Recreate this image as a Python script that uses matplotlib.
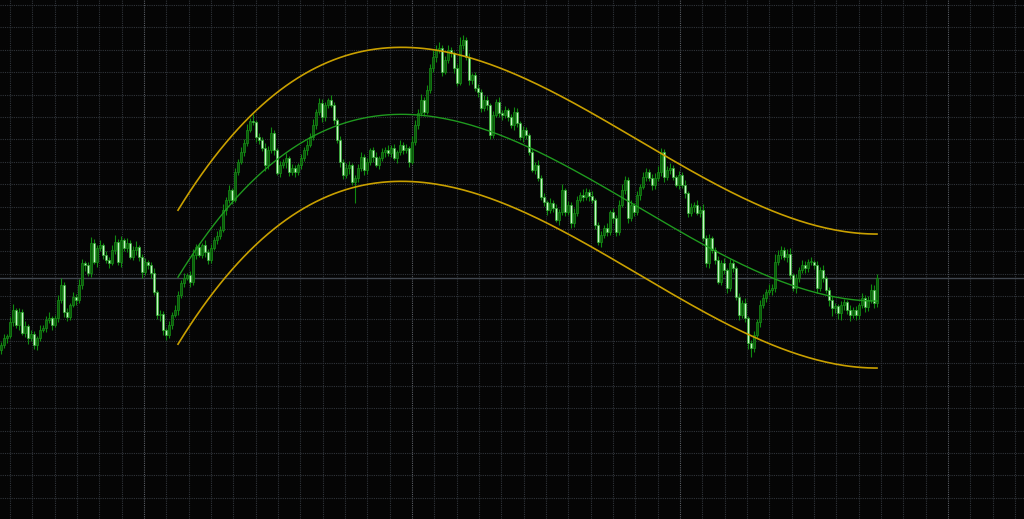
import numpy as np
import matplotlib.pyplot as plt

# cotações (pontos), uma vela por barra
closes = [
    55, 62, 64, 78, 90, 75, 88, 67, 74, 62, 66, 55, 62, 70, 72, 80, 82, 75, 82, 100,
    115, 88, 83, 95, 103, 100, 115, 137, 135, 127, 157, 138, 152, 155, 145, 140, 137, 150, 158, 138,
    160, 152, 157, 143, 150, 153, 143, 128, 138, 135, 127, 108, 85, 86, 70, 65, 75, 85, 90, 105,
    117, 122, 125, 118, 145, 153, 145, 155, 148, 140, 152, 160, 164, 170, 190, 200, 210, 200, 228, 238,
    248, 257, 270, 279, 278, 263, 260, 252, 235, 250, 267, 250, 227, 235, 238, 242, 228, 232, 228, 235,
    242, 250, 255, 263, 275, 288, 297, 283, 295, 300, 295, 280, 260, 238, 225, 232, 235, 218, 222, 232,
    243, 230, 238, 250, 243, 235, 242, 248, 250, 247, 252, 242, 248, 255, 250, 252, 238, 258, 275, 287,
    300, 288, 310, 332, 343, 350, 352, 328, 340, 350, 347, 332, 317, 355, 360, 343, 320, 325, 312, 308,
    292, 300, 295, 265, 285, 298, 287, 285, 290, 283, 275, 288, 277, 263, 270, 265, 248, 230, 235, 222,
    203, 198, 190, 197, 192, 180, 188, 210, 188, 195, 177, 187, 200, 205, 203, 208, 204, 200, 175, 158,
    165, 172, 168, 188, 182, 168, 195, 210, 220, 182, 195, 188, 205, 213, 223, 228, 222, 215, 222, 228,
    248, 223, 230, 232, 223, 215, 225, 215, 207, 187, 193, 195, 187, 190, 162, 137, 162, 150, 140, 118,
    137, 130, 112, 137, 132, 103, 85, 97, 82, 57, 52, 65, 78, 95, 102, 108, 110, 112, 138, 145,
    150, 143, 146, 125, 112, 122, 130, 135, 132, 138, 138, 135, 112, 130, 122, 110, 100, 92, 94, 87,
    95, 98, 90, 85, 90, 85, 95, 102, 93, 100, 110, 97, 122,
]
first_open = 50

wick_up = [
    3, 4, 2, 5, 6, 2, 4, 3, 5, 2, 4, 3, 2, 5, 3, 4, 6, 2, 3, 5,
    7, 3, 4, 2, 5, 3, 6, 4, 2, 3, 6, 4, 3, 5, 2, 4, 3, 5, 7, 3,
    4, 2, 5, 3, 4, 6, 2, 3, 4, 2, 3, 5, 2, 4, 3, 2, 4, 3, 5, 4,
    3, 5, 2, 4, 6, 3, 4, 2, 5, 3, 4, 3, 5, 4, 6, 3, 5, 2, 4, 3,
    5, 4, 6, 3, 7, 2, 4, 3, 5, 4, 6, 3, 2, 4, 3, 5, 2, 4, 3, 2,
    4, 3, 5, 4, 6, 3, 5, 4, 3, 2, 5, 3, 2, 4, 3, 5, 4, 2, 3, 4,
    5, 3, 4, 2, 3, 5, 2, 4, 3, 5, 3, 4, 2, 5, 3, 4, 2, 6, 5, 4,
    6, 3, 5, 4, 7, 5, 6, 3, 4, 5, 3, 2, 4, 8, 5, 3, 4, 2, 3, 4,
    3, 5, 4, 2, 4, 3, 5, 3, 4, 2, 3, 5, 4, 2, 4, 3, 2, 4, 3, 5,
    3, 4, 2, 5, 3, 4, 3, 6, 2, 4, 3, 5, 4, 3, 6, 4, 3, 5, 2, 3,
    4, 3, 5, 2, 4, 3, 5, 6, 4, 3, 5, 2, 4, 3, 5, 4, 3, 4, 5, 6,
    4, 3, 4, 5, 3, 2, 4, 3, 5, 2, 4, 3, 5, 4, 6, 3, 4, 2, 3, 4,
    3, 5, 2, 4, 3, 2, 4, 3, 5, 2, 3, 4, 3, 5, 4, 3, 6, 4, 8, 5,
    4, 3, 5, 6, 2, 4, 3, 5, 4, 3, 5, 2, 4, 3, 5, 2, 3, 4, 3, 2,
    4, 3, 2, 5, 3, 4, 2, 5, 3, 4, 6, 5, 4,
]
wick_dn = [
    4, 3, 5, 2, 4, 3, 5, 2, 4, 6, 3, 4, 5, 3, 2, 4, 3, 5, 2, 4,
    3, 5, 4, 3, 2, 5, 3, 4, 6, 3, 4, 2, 5, 3, 4, 3, 5, 2, 4, 3,
    5, 3, 4, 2, 3, 5, 4, 6, 3, 4, 5, 3, 4, 6, 5, 5, 3, 4, 2, 5,
    3, 4, 2, 5, 3, 4, 2, 3, 5, 4, 3, 2, 4, 3, 2, 5, 3, 4, 2, 3,
    2, 4, 3, 2, 3, 5, 4, 3, 6, 4, 3, 5, 2, 4, 3, 6, 4, 3, 5, 3,
    4, 3, 5, 2, 3, 4, 3, 5, 4, 3, 2, 4, 3, 5, 4, 3, 6, 3, 21, 4,
    3, 5, 4, 3, 5, 2, 4, 3, 5, 3, 4, 2, 5, 3, 4, 3, 5, 2, 3, 4,
    3, 4, 2, 3, 4, 5, 3, 4, 2, 3, 4, 5, 3, 2, 4, 3, 5, 4, 3, 5,
    4, 3, 5, 4, 3, 2, 4, 5, 3, 4, 3, 5, 4, 3, 5, 4, 3, 2, 4, 3,
    3, 4, 5, 3, 4, 2, 5, 3, 4, 3, 5, 4, 3, 2, 4, 3, 5, 3, 4, 3,
    5, 3, 4, 3, 5, 4, 3, 2, 4, 5, 3, 4, 3, 5, 2, 4, 3, 5, 4, 3,
    4, 5, 3, 4, 3, 2, 4, 3, 5, 4, 3, 5, 2, 4, 3, 4, 5, 3, 4, 2,
    3, 4, 5, 3, 4, 3, 5, 3, 4, 6, 9, 4, 3, 5, 3, 4, 3, 5, 4, 3,
    4, 3, 5, 4, 3, 5, 4, 3, 5, 4, 3, 4, 5, 3, 4, 3, 6, 8, 5, 6,
    7, 5, 4, 6, 3, 5, 4, 3, 5, 4, 3, 5, 4,
]

reg_start = 59      # primeira barra do canal de regressão
reg_degree = 3
channel_width = 67  # distância das bandas à linha central (pontos)

closes = np.array(closes, dtype=float)
opens = np.concatenate(([first_open], closes[:-1]))
highs = np.maximum(opens, closes) + np.array(wick_up)
lows = np.minimum(opens, closes) - np.array(wick_dn)
idx = np.arange(len(closes))

bg = '#050505'
fig = plt.figure(figsize=(10.24, 5.19), dpi=100, facecolor=bg)
ax = fig.add_axes([0, 0, 1, 1], facecolor=bg)
ax.set_xlim(-1 / 3, 341)
ax.set_ylim(-119, 400)
ax.axis('off')

# grelha pontilhada
gx = np.arange(3, 341, 22.33 / 3)
for k, x in enumerate(gx):
    c = '#5a5e64' if k % 12 == 6 else '#30343a'
    ax.axvline(x, color=c, lw=0.8, ls=(0, (1, 1)), zorder=0)
for y in np.arange(395, -120, -22.4):
    ax.axhline(y, color='#30343a', lw=0.8, ls=(0, (1, 1)), zorder=0)

# linha do último preço
ax.axhline(closes[-1], color='#40464e', lw=1.0, zorder=1)

# velas
up = closes >= opens
ax.vlines(idx, lows, highs, color='#108a10', lw=0.8, zorder=2)
body = np.maximum(np.abs(closes - opens), 1)
bottom = np.minimum(opens, closes)
ax.bar(idx[up], body[up], bottom=bottom[up], width=0.8,
       color='#0b5a0b', edgecolor='#179017', lw=0.5, zorder=3)
ax.bar(idx[~up], body[~up], bottom=bottom[~up], width=0.8,
       color='#c8f5c8', edgecolor='#2bb02b', lw=0.5, zorder=3)

# canal de regressão polinomial
ri = idx[reg_start:]
coef = np.polyfit(ri, closes[reg_start:], reg_degree)
center = np.polyval(coef, ri)
ax.plot(ri, center, color='#1f9a1f', lw=1.0, zorder=4)
ax.plot(ri, center + channel_width, color='#c9a000', lw=1.2, zorder=4)
ax.plot(ri, center - channel_width, color='#c9a000', lw=1.2, zorder=4)

fig.savefig('out.png', dpi=100, facecolor=bg)
